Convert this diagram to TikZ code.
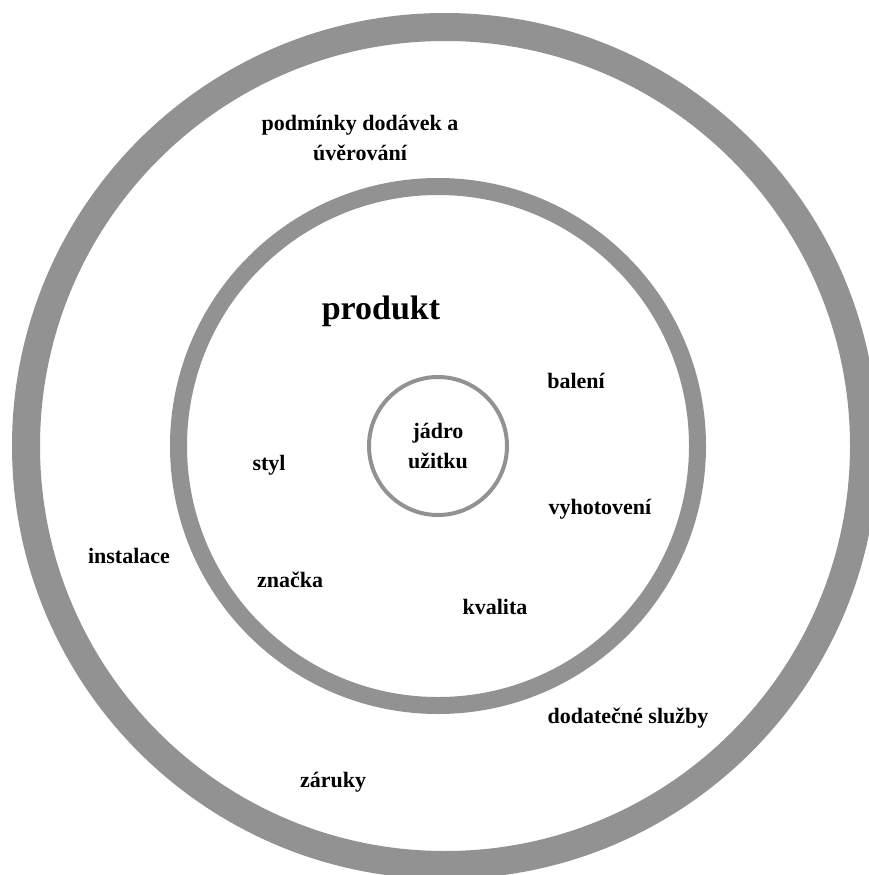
\documentclass[tikz,border=0pt]{standalone}
\usepackage{fontspec}
\setmainfont{Liberation Serif}
\usepackage{xcolor}
\definecolor{ringgray}{RGB}{146,146,146}

\begin{document}
\begin{tikzpicture}[
    x=1pt, y=-1pt,
    ring/.style={circle, draw=ringgray, inner sep=0pt, outer sep=0pt},
    lbl/.style={font=\fontsize{22}{30}\selectfont\bfseries, align=center,
        inner sep=0pt},
    bigl/.style={font=\fontsize{34}{40}\selectfont\bfseries, inner sep=0pt},
]
\useasboundingbox (0,0) rectangle (869,875);
\clip (0,0) rectangle (869,875);

% Rings
\node[ring, line width=28pt, minimum size=838pt] (outer) at (445,446) {};
\node[ring, line width=17pt, minimum size=519pt] (middle) at (438,446) {};
\node[ring, line width=4pt, minimum size=138pt, align=center, text=black,
    font=\fontsize{22}{30}\selectfont\bfseries] (core) at (438,446)
    {j\'adro\\u\v{z}itku};

% Inner labels
\node[bigl] (produkt) at (381,311) {produkt};
\node[lbl] (baleni)  at (576,381) {balen\'i};
\node[lbl] (styl)    at (269,465) {styl};
\node[lbl] (vyhot)   at (600,509) {vyhotoven\'i};
\node[lbl] (znacka)  at (290,580) {zna\v{c}ka};
\node[lbl] (kvalita) at (495,607) {kvalita};

% Outer labels
\node[lbl] (podminky) at (360,138) {podm\'inky dod\'avek a\\\'uv\v{e}rov\'an\'i};
\node[lbl] (instal)   at (129,556) {instalace};
\node[lbl] (sluzby)   at (628,718) {dodate\v{c}n\'e slu\v{z}by};
\node[lbl] (zaruky)   at (333,782) {z\'aruky};

\end{tikzpicture}
\end{document}
